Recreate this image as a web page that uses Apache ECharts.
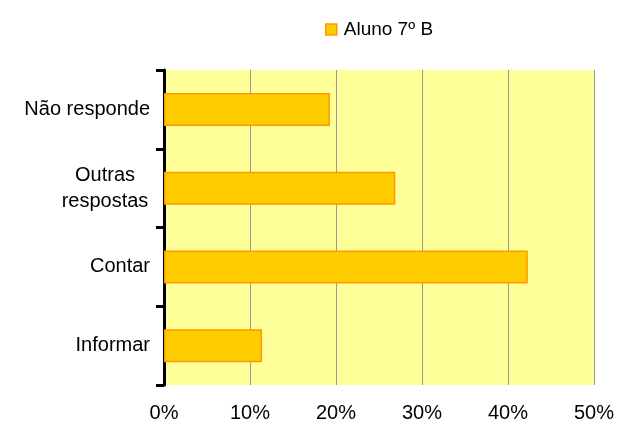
<!DOCTYPE html>
<html>
<head>
<meta charset="utf-8">
<script src="https://cdn.jsdelivr.net/npm/echarts@6/dist/echarts.min.js"></script>
<style>
  html, body { margin: 0; padding: 0; background: #fff; }
  #chart { width: 617px; height: 423px; }
</style>
</head>
<body>
<div id="chart"></div>
<script>
// categories bottom to top
var categories = ['Informar', 'Contar', 'Outras\nrespostas', 'Não responde'];
var values = [11.4, 42.3, 26.9, 19.3];
var seriesName = 'Aluno 7º B';

var chart = echarts.init(document.getElementById('chart'));

var option = {
    animation: false,
    textStyle: { fontFamily: 'Liberation Sans, Arial, sans-serif' },
    legend: {
        top: 15,
        left: 320,
        icon: 'rect',
        itemWidth: 11,
        itemHeight: 11,
        itemGap: 6,
        itemStyle: { borderColor: '#FF9900', borderWidth: 1.5 },
        textStyle: { fontSize: 19, color: '#000', padding: [0, 0, 0, 2] },
        data: [seriesName]
    },
    grid: {
        left: 164,
        right: 22,
        top: 70,
        bottom: 38,
        show: true,
        backgroundColor: '#FFFF99',
        borderWidth: 0
    },
    xAxis: {
        type: 'value',
        min: 0,
        max: 50,
        interval: 10,
        axisLine: { show: false },
        axisTick: { show: false },
        axisLabel: {
            formatter: '{value}%',
            fontSize: 20,
            color: '#000',
            margin: 18
        },
        splitLine: { lineStyle: { color: '#999', width: 1 } }
    },
    yAxis: {
        type: 'category',
        data: categories,
        axisLine: { lineStyle: { color: '#000', width: 3 } },
        axisTick: { show: true, inside: false, length: 8, lineStyle: { color: '#000', width: 3 } },
        axisLabel: {
            fontSize: 20,
            color: '#000',
            margin: 14,
            lineHeight: 26,
            formatter: function (v) {
                if (v.indexOf('\n') >= 0) {
                    return v.split('\n').map(function (s) { return '{c|' + s + '}'; }).join('\n');
                }
                return v;
            },
            rich: {
                c: { width: 90, align: 'center', fontSize: 20, lineHeight: 26, color: '#000' }
            }
        }
    },
    series: [{
        name: seriesName,
        type: 'bar',
        data: values,
        barWidth: 33,
        itemStyle: {
            color: '#FFCC00',
            borderColor: '#FF9900',
            borderWidth: 1.5
        }
    }]
};

chart.setOption(option);
</script>
</body>
</html>
